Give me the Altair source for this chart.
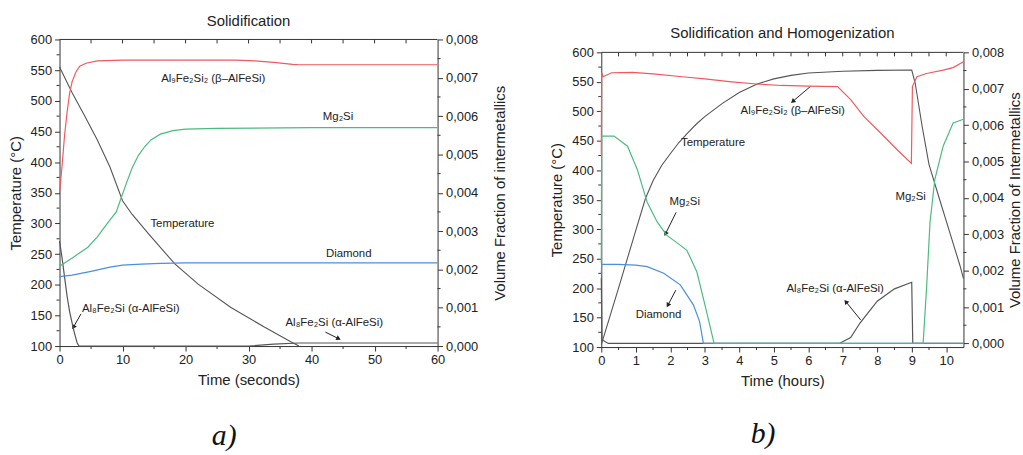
import altair as alt
import pandas as pd

FONT = "Liberation Sans"
INK = "#222222"
RED = "#f05a5e"
GREEN = "#4cbb7f"
BLUE = "#4a8fe0"
GRAY = "#555555"

# ---------------- Panel a : Solidification (seconds) ----------------
a_temp_t = [0, 2, 4, 6, 8, 10, 11.5, 14.2, 18.3, 22, 27.2, 32.5, 36.7, 38]
a_temp_v = [555, 513, 475, 436, 392, 337, 315, 282, 234, 201, 163, 131, 107, 100]

a_red_t = [0, 0.4, 0.8, 1.2, 1.6, 2.0, 2.6, 3.2, 4.2, 6, 10, 28, 31, 34, 37, 38, 60]
a_red_v = [0.0040, 0.0047, 0.0055, 0.0061, 0.0066, 0.0069, 0.00715, 0.0073, 0.00738,
           0.00744, 0.00746, 0.00746, 0.00744, 0.0074, 0.00735, 0.00734, 0.00734]

a_green_t = [0, 2.2, 4.5, 6, 7.5, 9, 9.6, 10.5, 11.5, 12.5, 13.5, 14.5, 16, 18, 20, 25, 40, 60]
a_green_v = [0.00208, 0.00232, 0.00258, 0.00285, 0.00318, 0.0035, 0.00378, 0.0042, 0.00464,
             0.00497, 0.0052, 0.00538, 0.00553, 0.00562, 0.00566, 0.00568, 0.0057, 0.0057]

a_blue_t = [0, 2, 5, 8, 10, 13, 16, 20, 60]
a_blue_v = [0.00181, 0.00185, 0.00195, 0.00206, 0.00211, 0.00214, 0.00216, 0.00217, 0.00217]

a_al8_t = [0, 0.4, 0.8, 1.2, 1.6, 2.0, 2.4, 2.8, 3.1, 30, 34, 38, 60]
a_al8_v = [0.00274, 0.0023, 0.0018, 0.0013, 0.0009, 0.0006, 0.00032, 0.00008, 0, 0,
           0.00005, 0.00008, 0.00008]

a_lab_text = ["Al₉Fe₂Si₂ (β–AlFeSi)", "Mg₂Si", "Temperature", "Diamond",
              "Al₈Fe₂Si (α-AlFeSi)", "Al₈Fe₂Si (α-AlFeSi)"]
a_lab_t = [24.4, 44.2, 19.5, 45.9, 11.3, 43.6]
a_lab_T = [535, 474, 299, 250, 161, 138]

a_arr_t1 = [3.41, 42.2]
a_arr_T1 = [152.5, 122.7]
a_arr_t2 = [2.2, 44.3]
a_arr_T2 = [130.8, 112]
a_arr_ang = [210, 116]

# ---------------- Panel b : Solidification and Homogenization (hours) ----------------
b_temp_t = [0, 0.5, 1.0, 1.28, 1.5, 1.75, 2.0, 2.25, 2.5, 2.75, 3.0, 3.5, 4.0, 4.5, 5.0,
            5.5, 6.0, 7.0, 8.0, 9.0, 9.1, 9.3, 9.5, 9.8, 10.1, 10.4, 10.5]
b_temp_v = [104, 200, 298, 352, 382, 408, 428, 447, 463, 478, 491, 513, 532, 546, 555,
            561, 565, 568, 569.5, 570, 548, 475, 410, 352, 295, 238, 216]

b_red_t = [0, 0.01, 0.05, 0.3, 0.9, 1.5, 2.35, 3.0, 3.78, 4.5, 5.22, 6.0, 6.85, 7.23, 7.61,
           8.09, 8.57, 8.99, 9.02, 9.15, 9.43, 9.91, 10.2, 10.5]
b_red_v = [0.0052, 0.00745, 0.00733, 0.00744, 0.00745, 0.00741, 0.00733, 0.00727, 0.00719,
           0.00713, 0.00709, 0.00707, 0.00706, 0.0067, 0.00624, 0.00579, 0.00533, 0.00495,
           0.00706, 0.00733, 0.00742, 0.00751, 0.00758, 0.00774]

b_green_t = [0, 0.01, 0.37, 0.76, 1.04, 1.33, 1.62, 1.9, 2.19, 2.48, 2.77, 3.05, 3.27, 9.33,
             9.43, 9.53, 9.67, 9.91, 10.2, 10.5]
b_green_v = [0.0022, 0.0057, 0.0057, 0.00542, 0.00479, 0.00388, 0.00334, 0.00297, 0.00277,
             0.00256, 0.00197, 0.00088, 0, 0, 0.00152, 0.00333, 0.00451, 0.00542, 0.00606, 0.00616]

b_blue_t = [0, 0.01, 0.48, 1.0, 1.33, 1.81, 2.29, 2.67, 2.85, 2.96, 10.5]
b_blue_v = [0.0019, 0.00217, 0.00217, 0.00215, 0.00211, 0.00193, 0.00161, 0.00106, 0.0006, 0, 0]

b_al8_t = [0, 0.02, 0.2, 6.9, 7.23, 7.5, 8.0, 8.5, 9.0, 9.03, 10.5]
b_al8_v = [0.0018, 0.0001, 0, 0, 0.00016, 0.00056, 0.00116, 0.0015, 0.00168, 0, 0]

b_lab_text = ["Al₉Fe₂Si₂ (β–AlFeSi)", "Temperature", "Mg₂Si", "Diamond",
              "Al₈Fe₂Si (α-AlFeSi)", "Mg₂Si"]
b_lab_t = [5.55, 3.24, 2.42, 1.66, 6.78, 8.97]
b_lab_T = [500, 447, 346, 154, 199, 354]

b_arr_t1 = [6.06, 2.17, 2.16, 7.52]
b_arr_T1 = [542, 328.6, 196.5, 146]
b_arr_t2 = [5.55, 1.86, 1.93, 7.09]
b_arr_T2 = [516.7, 292, 171, 177]
b_arr_ang = [230, 207, 209, 321]

# ticks
temp_major = list(range(100, 601, 50))
temp_minor = list(range(125, 600, 50))
vf_major = [0, 0.001, 0.002, 0.003, 0.004, 0.005, 0.006, 0.007, 0.008]
vf_minor = [0.0005, 0.0015, 0.0025, 0.0035, 0.0045, 0.0055, 0.0065, 0.0075]
a_x_major = [0, 10, 20, 30, 40, 50, 60]
a_x_minor = [5, 15, 25, 35, 45, 55]
a_x_top = [5, 10, 15, 20, 25, 30, 35, 40, 45, 50, 55]
b_x_major = [0, 1, 2, 3, 4, 5, 6, 7, 8, 9, 10]
b_x_minor = [0.5, 1.5, 2.5, 3.5, 4.5, 5.5, 6.5, 7.5, 8.5, 9.5]
b_x_top = [i * 0.5 for i in range(1, 21)]


def axis_common():
    return dict(labelFont=FONT, titleFont=FONT, labelFontSize=13, titleFontSize=15,
                labelColor=INK, titleColor=INK, titleFontWeight="normal",
                domainColor="#333", tickColor="#333", grid=False, labelFlush=False)


def panel(title, xmax, xtitle, xmajor, xminor, xtop, temp_t, temp_v, series, lab, arr,
          right_title, w, h, vf_lo, tag, tag_x, tag_y, rpad):
    xs = alt.Scale(domain=[0, xmax], nice=False, zero=False)
    ys = alt.Scale(domain=[100, 600], nice=False, zero=False)
    vs = alt.Scale(domain=[vf_lo, 0.008], nice=False, zero=False)

    xaxis = alt.Axis(values=xmajor, title=xtitle, tickSize=5, labelPadding=3, titlePadding=6,
                     format="d", **axis_common())
    yaxis = alt.Axis(values=temp_major, title="Temperature (°C)", tickSize=5, labelPadding=3,
                     titlePadding=7, format="d", **axis_common())
    raxis = alt.Axis(orient="right", values=vf_major, title=right_title, tickSize=5,
                     labelPadding=3, titlePadding=rpad, titleAngle=270, titleBaseline="top",
                     labelExpr="replace(format(datum.value, '.3f'), '.', ',')",
                     **axis_common())

    X = lambda f: alt.X(f, scale=xs, axis=xaxis)
    Y = lambda f: alt.Y(f, scale=ys, axis=yaxis)
    V = lambda f: alt.Y(f, scale=vs, axis=raxis)

    tdf = pd.DataFrame({"t": temp_t, "T": temp_v})
    temp_line = alt.Chart(tdf).mark_line(color=GRAY, strokeWidth=1.1).encode(
        x=X("t:Q"), y=Y("T:Q"))

    left_minor = alt.Chart(pd.DataFrame({"T": temp_minor})).mark_rule(color="#333").encode(
        y=Y("T:Q"), x=alt.value(-3), x2=alt.value(0))
    top_ticks = alt.Chart(pd.DataFrame({"t": xtop})).mark_rule(color="#333").encode(
        x=X("t:Q"), y=alt.value(0), y2=alt.value(4))
    top_frame = alt.Chart(pd.DataFrame({"t": [0], "t2": [xmax]})).mark_rule(color="#333").encode(
        x=X("t:Q"), x2="t2:Q", y=alt.value(0))
    bot_minor = alt.Chart(pd.DataFrame({"t": xminor})).mark_rule(color="#333").encode(
        x=X("t:Q"), y=alt.value(h), y2=alt.value(h + 3))

    ldf = pd.DataFrame({"t": lab[1], "T": lab[2], "txt": lab[0]})
    labels = alt.Chart(ldf).mark_text(font=FONT, fontSize=11.5, color=INK).encode(
        x=X("t:Q"), y=Y("T:Q"), text="txt:N")

    adf = pd.DataFrame({"t1": arr[0], "T1": arr[1], "t2": arr[2], "T2": arr[3], "ang": arr[4]})
    arrows = alt.Chart(adf).mark_rule(color=INK, strokeWidth=1).encode(
        x=X("t1:Q"), y=Y("T1:Q"), x2="t2:Q", y2="T2:Q")
    heads = alt.Chart(adf).mark_point(shape="triangle-up", filled=True, size=28, color=INK,
                                      opacity=1).encode(
        x=X("t2:Q"), y=Y("T2:Q"), angle=alt.Angle("ang:Q", scale=None))

    one = pd.DataFrame({"k": [0]})
    tag_mark = alt.Chart(one).mark_text(text=tag, font="Liberation Serif", fontStyle="italic",
                                        fontSize=30, color="#111").encode(
        x=alt.value(tag_x), y=alt.value(tag_y))

    left = alt.layer(temp_line, left_minor, top_ticks, top_frame, bot_minor, labels, arrows,
                     heads, tag_mark)

    rlayers = []
    for (ts, vals, col) in series:
        d = pd.DataFrame({"t": ts, "v": vals})
        rlayers.append(alt.Chart(d).mark_line(color=col, strokeWidth=1.2).encode(
            x=X("t:Q"), y=V("v:Q")))
    right_minor = alt.Chart(pd.DataFrame({"v": vf_minor})).mark_rule(color="#333").encode(
        y=V("v:Q"), x=alt.value(w), x2=alt.value(w + 3))
    right = alt.layer(*rlayers, right_minor)

    return alt.layer(left, right).resolve_scale(y="independent").properties(
        width=w, height=h,
        title=alt.TitleParams(title, font=FONT, fontSize=15, fontWeight="normal", color=INK,
                              offset=5, anchor="middle"))


def spacer(w, hh):
    one = pd.DataFrame({"k": [0]})
    return alt.Chart(one).mark_text(text="", opacity=0).encode(
        x=alt.value(0), y=alt.value(0)).properties(width=w, height=hh)


pa = panel("Solidification", 60, "Time (seconds)", a_x_major, a_x_minor, a_x_top,
           a_temp_t, a_temp_v,
           [(a_al8_t, a_al8_v, GRAY), (a_blue_t, a_blue_v, BLUE), (a_red_t, a_red_v, RED),
            (a_green_t, a_green_v, GREEN)],
           (a_lab_text, a_lab_t, a_lab_T),
           (a_arr_t1, a_arr_T1, a_arr_t2, a_arr_T2, a_arr_ang),
           "Volume Fraction of intermetallics", 381, 309, 0.0, "a)", 166, 400, 15)

pb = panel("Solidification and Homogenization", 10.5, "Time (hours)", b_x_major, b_x_minor,
           b_x_top, b_temp_t, b_temp_v,
           [(b_al8_t, b_al8_v, GRAY), (b_blue_t, b_blue_v, BLUE), (b_red_t, b_red_v, RED),
            (b_green_t, b_green_v, GREEN)],
           (b_lab_text, b_lab_t, b_lab_T),
           (b_arr_t1, b_arr_T1, b_arr_t2, b_arr_T2, b_arr_ang),
           "Volume Fraction of Intermetallics", 365, 297, -0.0001, "b)", 163, 385, 4)

col_a = alt.vconcat(spacer(381, 1), pa, spacing=0)
col_b = alt.vconcat(spacer(365, 18), pb, spacing=0)

chart = alt.hconcat(col_a, col_b, spacing=42).properties(
    padding={"left": 8, "top": 1, "right": 0, "bottom": 0},
    background="white",
).configure_view(stroke=None)

chart.save("out.html", embed_options={"renderer": "svg", "actions": False})
